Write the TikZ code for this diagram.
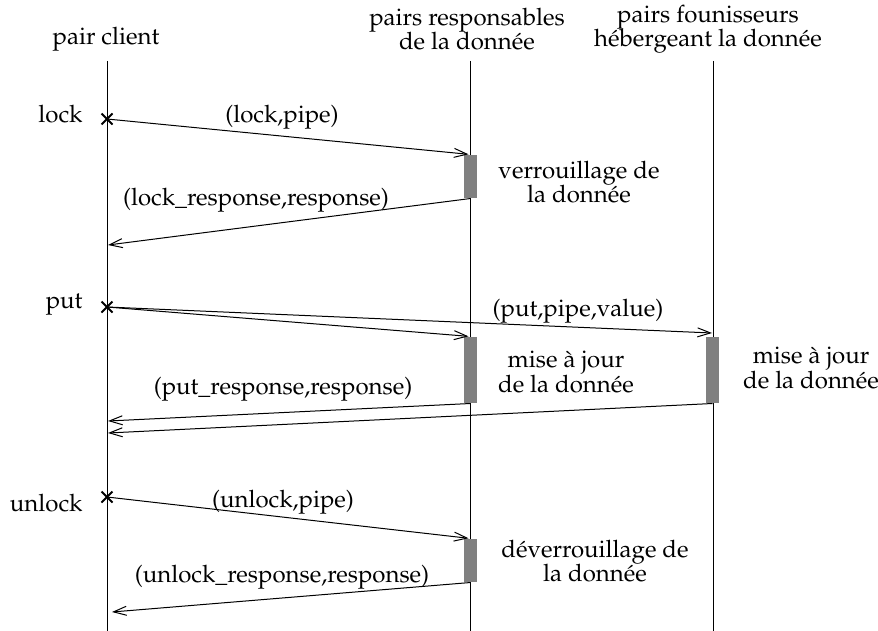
\documentclass[tikz,border=0pt]{standalone}
\usepackage[T1]{fontenc}
\usepackage{mathpazo}
\usetikzlibrary{arrows.meta}

\tikzset{every picture/.style={line width=0.5pt}}
\tikzset{
  msg/.style={-{Straight Barb[length=6.5pt,width=4.5pt,line width=0.5pt]}},
  actbar/.style={draw=none, fill={rgb,255:red,128;green,128;blue,128}, minimum width=6.5pt, inner sep=0pt},
  lbl/.style={inner sep=0pt, align=center, font=\fontsize{12}{12.2}\selectfont},
  cross/.style={line width=1pt}
}

\begin{document}
\begin{tikzpicture}[x=0.5pt,y=0.5pt,yscale=-1,xscale=1]
\useasboundingbox (0,0) rectangle (878,631);

% Header Text Nodes
\node [lbl] (hclient) at (106,39) {pair client};
\node [lbl] (hresp) at (467,29) {pairs responsables\\de la donnée};
\node [lbl] (hhost) at (708,29) {pairs founisseurs\\hébergeant la donnée};

% Lifelines
\coordinate (ctop) at (107,61);
\coordinate (cbot) at (107,631);
\coordinate (rtop) at (470,61);
\coordinate (rbot) at (470,631);
\coordinate (htop) at (713,61);
\coordinate (hbot) at (713,631);
\draw (ctop) -- (cbot);
\draw (rtop) -- (rbot);
\draw (htop) -- (hbot);

% Activation Bars
\node [actbar, minimum height=21.5pt] (b1) at (470.5,176.5) {};
\node [actbar, minimum height=33pt] (b2) at (470.5,370) {};
\node [actbar, minimum height=33pt] (b3) at (712.5,370) {};
\node [actbar, minimum height=21.5pt] (b4) at (470.5,560.5) {};

% Crosses on the client lifeline
\coordinate (x1) at (107,119);
\coordinate (x2) at (107,307);
\coordinate (x3) at (107,497);
\foreach \c in {x1,x2,x3}
  \draw [cross] (\c) +(-5.5,-5.5) -- +(5.5,5.5) (\c) +(-5.5,5.5) -- +(5.5,-5.5);

% Return ends
\coordinate (r1) at (108,245);
\coordinate (r2) at (108,421);
\coordinate (r3) at (108,433);
\coordinate (r4) at (112,612);
\coordinate (hput) at (712,333);

% Straight Lines
\draw [msg, shorten >=1pt] (x1) -- (b1.north);
\draw [msg] (b1.south) -- (r1);
\draw [msg, shorten >=1pt] (x2) -- (b2.north);
\draw [msg] (x2) -- (hput);
\draw [msg] (b2.south) -- (r2);
\draw [msg] (b3.south) -- (r3);
\draw [msg, shorten >=1pt] (x3) -- (b4.north);
\draw [msg] (b4.south) -- (r4);

% Text Node
\node [lbl, anchor=east] (tlock) at (83,114) {lock};
\node [lbl, anchor=east] (tput) at (83,305) {put};
\node [lbl, anchor=east] (tunlock) at (83,503) {unlock};
% Text Node
\node [lbl] (m1) at (282,117) {(lock,pipe)};
\node [lbl] (m2) at (256,200) {(lock\_response,response)};
\node [lbl] (m3) at (578,311) {(put,pipe,value)};
\node [lbl] (m4) at (283,389) {(put\_response,response)};
\node [lbl] (m5) at (283,502) {(unlock,pipe)};
\node [lbl] (m6) at (282,577) {(unlock\_response,response)};
% Text Node
\node [lbl] (n1) at (579,182) {verrouillage de\\la donnée};
\node [lbl] (n2) at (566,372) {mise à jour\\de la donnée};
\node [lbl] (n3) at (811,368) {mise à jour\\de la donnée};
\node [lbl] (n4) at (595,561) {déverrouillage de\\la donnée};

\end{tikzpicture}
\end{document}
